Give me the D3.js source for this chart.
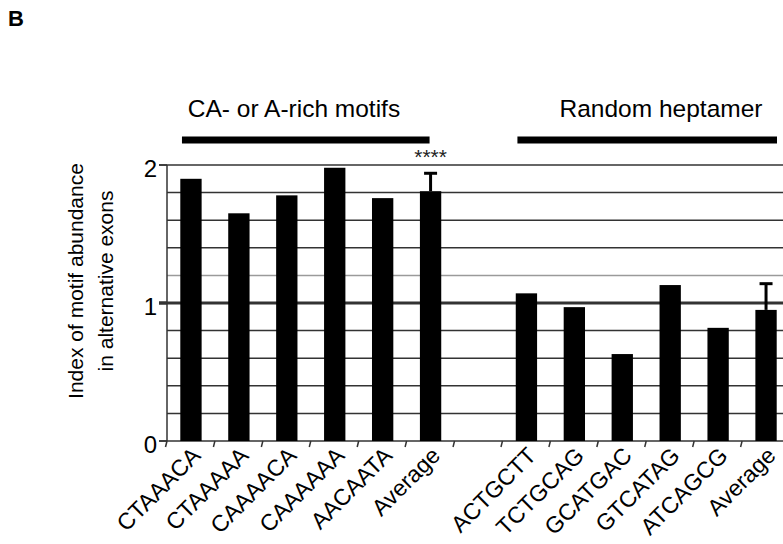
<!DOCTYPE html>
<html>
<head>
<meta charset="utf-8">
<script src="https://cdn.jsdelivr.net/npm/d3@7"></script>
<style>
  html, body { margin: 0; padding: 0; background: #fff; }
  svg { display: block; font-family: "Liberation Sans", Arial, sans-serif; }
</style>
</head>
<body>
<svg id="chart" width="783" height="544"></svg>
<script>
// Motif groups and their index values
const caMotifs = ["CTAAACA", "CTAAAAA", "CAAAACA", "CAAAAAA", "AACAATA", "Average"];
const caValues = [1.90, 1.65, 1.78, 1.98, 1.76, 1.81];
const caError = [0, 0, 0, 0, 0, 0.13];

const randomMotifs = ["ACTGCTT", "TCTGCAG", "GCATGAC", "GTCATAG", "ATCAGCG", "Average"];
const randomValues = [1.07, 0.97, 0.63, 1.13, 0.82, 0.95];
const randomError = [0, 0, 0, 0, 0, 0.19];

const groupTitles = ["CA- or A-rich motifs", "Random heptamer"];
const yTickLabels = [0, 1, 2];
const gridSteps = [0.2, 0.4, 0.6, 0.8, 1.0, 1.2, 1.4, 1.6, 1.8, 2.0];
const significance = "****";

// One row per slot on the x axis; an empty slot separates the two groups
const rows = [];
caMotifs.forEach((m, i) => rows.push({ key: "a" + i, label: m, value: caValues[i], err: caError[i], group: 0 }));
rows.push({ key: "gap", label: "", value: null, err: 0, group: -1 });
randomMotifs.forEach((m, i) => rows.push({ key: "b" + i, label: m, value: randomValues[i], err: randomError[i], group: 1 }));

const svg = d3.select("#chart");

const x = d3.scaleBand()
  .domain(rows.map(d => d.key))
  .range([167, 790])
  .paddingInner(0.555)
  .paddingOuter(0.2775);
const step = x.step();
const y = d3.scaleLinear().domain([0, 2]).range([441, 165]);

// Panel letter
svg.append("text")
  .attr("x", 8).attr("y", 26)
  .attr("font-size", 22).attr("font-weight", "bold")
  .text("B");

// Horizontal gridlines
svg.append("g").selectAll("line")
  .data(gridSteps)
  .join("line")
  .attr("x1", d => (d === 2 || d === 1) ? 159 : 167)
  .attr("x2", 790)
  .attr("y1", d => y(d)).attr("y2", d => y(d))
  .attr("stroke", d => d === 1.2 ? "#9a9a9a" : "#333")
  .attr("stroke-width", d => d === 1 ? 3 : 1.5);

// Y axis line and ticks
svg.append("line")
  .attr("x1", 167).attr("x2", 167)
  .attr("y1", y(2)).attr("y2", y(0))
  .attr("stroke", "#333").attr("stroke-width", 1.5);
svg.append("g").selectAll("line")
  .data(yTickLabels)
  .join("line")
  .attr("x1", 159).attr("x2", 167)
  .attr("y1", d => y(d)).attr("y2", d => y(d))
  .attr("stroke", "#333").attr("stroke-width", d => d === 1 ? 3 : 1.5);
svg.append("g").selectAll("text")
  .data(yTickLabels)
  .join("text")
  .attr("x", 157)
  .attr("y", d => y(d) + 12)
  .attr("text-anchor", "end")
  .attr("font-size", 24)
  .text(d => d);

// X axis line with tick marks between slots
svg.append("line")
  .attr("x1", 159).attr("x2", 790)
  .attr("y1", y(0)).attr("y2", y(0))
  .attr("stroke", "#333").attr("stroke-width", 1.5);
const boundaries = d3.range(rows.length + 1).map(i => x.range()[0] + i * step);
svg.append("g").selectAll("line")
  .data(boundaries)
  .join("line")
  .attr("x1", d => d).attr("x2", d => d - 1.5)
  .attr("y1", y(0)).attr("y2", y(0) + 6)
  .attr("stroke", "#333").attr("stroke-width", 1.5);

// Bars
const bars = rows.filter(d => d.value !== null);
svg.append("g").selectAll("rect")
  .data(bars)
  .join("rect")
  .attr("x", d => x(d.key))
  .attr("y", d => y(d.value))
  .attr("width", x.bandwidth())
  .attr("height", d => y(0) - y(d.value))
  .attr("fill", "#000");

// Upper error bars on the averages
const errs = bars.filter(d => d.err > 0);
const eg = svg.append("g").attr("stroke", "#000").attr("stroke-width", 3);
eg.selectAll("line.v")
  .data(errs)
  .join("line").attr("class", "v")
  .attr("x1", d => x(d.key) + x.bandwidth() / 2)
  .attr("x2", d => x(d.key) + x.bandwidth() / 2)
  .attr("y1", d => y(d.value))
  .attr("y2", d => y(d.value + d.err));
eg.selectAll("line.c")
  .data(errs)
  .join("line").attr("class", "c")
  .attr("x1", d => x(d.key) + x.bandwidth() / 2 - 6.5)
  .attr("x2", d => x(d.key) + x.bandwidth() / 2 + 6.5)
  .attr("y1", d => y(d.value + d.err))
  .attr("y2", d => y(d.value + d.err));

// Significance marker above the CA-rich average
const caAvg = bars.find(d => d.key === "a5");
svg.append("text")
  .attr("x", x(caAvg.key) + x.bandwidth() / 2)
  .attr("y", 164)
  .attr("text-anchor", "middle")
  .attr("font-size", 21)
  .attr("fill", "#222")
  .text(significance);

// Rotated category labels
svg.append("g").selectAll("text")
  .data(rows.filter(d => d.label))
  .join("text")
  .attr("text-anchor", "end")
  .attr("font-size", 23)
  .attr("transform", d => `translate(${x(d.key) + x.bandwidth() / 2 + 11},${457}) rotate(-45)`)
  .text(d => d.label);

// Group titles with their bracket bars
[0, 1].forEach(g => {
  const members = bars.filter(d => d.group === g);
  const x0 = x(members[0].key) + x.bandwidth() / 2 - 9;
  const x1 = Math.min(x(members[members.length - 1].key) + x.bandwidth() / 2 + (g === 0 ? -1 : 11), 777);
  svg.append("line")
    .attr("x1", x0).attr("x2", x1)
    .attr("y1", 140).attr("y2", 140)
    .attr("stroke", "#000").attr("stroke-width", 7);
  svg.append("text")
    .attr("x", g === 0 ? 294 : 661)
    .attr("y", 117)
    .attr("text-anchor", "middle")
    .attr("font-size", 24.5)
    .text(groupTitles[g]);
});

// Y axis title on two lines
const yTitle = svg.append("text")
  .attr("transform", "translate(83,281) rotate(-90)")
  .attr("text-anchor", "middle")
  .attr("font-size", 21);
yTitle.append("tspan").attr("x", 0).attr("dy", 0).text("Index of motif abundance");
yTitle.append("tspan").attr("x", 0).attr("dy", 30).text("in alternative exons");
</script>
</body>
</html>
